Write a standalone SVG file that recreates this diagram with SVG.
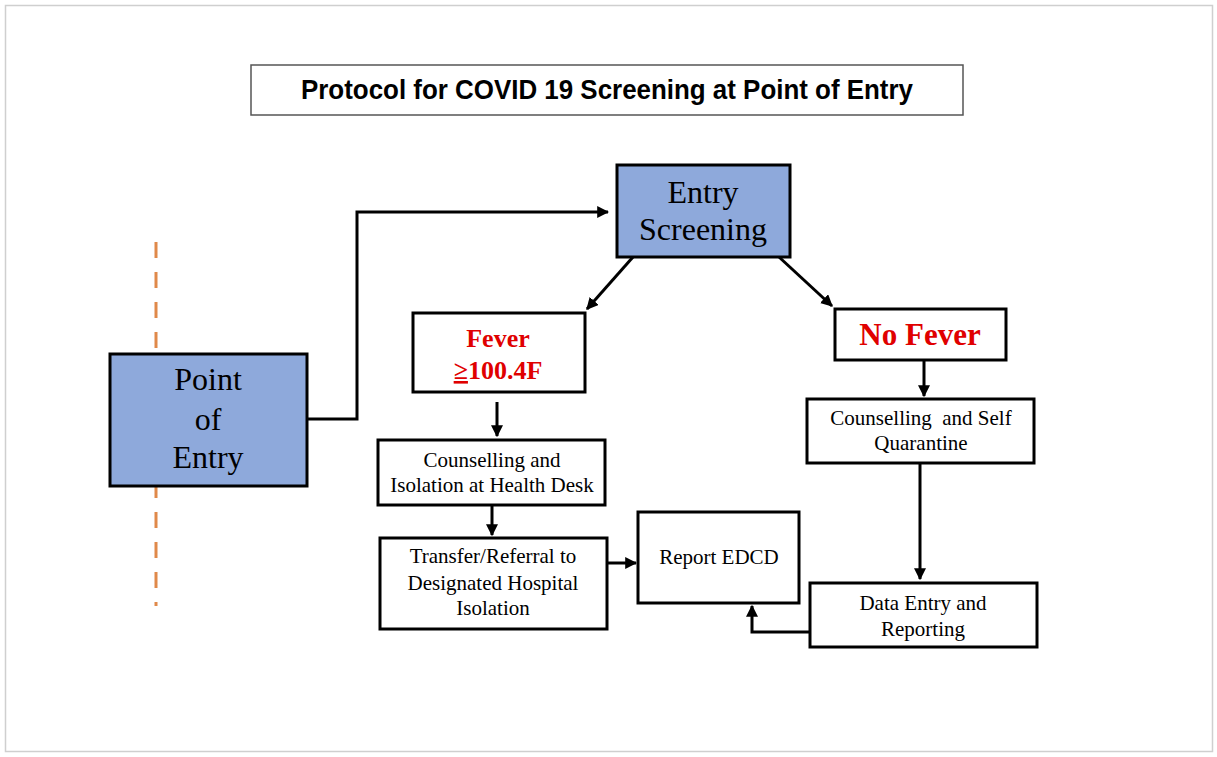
<svg xmlns="http://www.w3.org/2000/svg" width="1217" height="757" viewBox="0 0 1217 757">
<defs>
<style>
.box{fill:#ffffff;stroke:#000;stroke-width:3}
.blue{fill:#8EA9DB;stroke:#000;stroke-width:3}
.t{font-family:"Liberation Serif","DejaVu Serif",serif;fill:#000;text-anchor:middle}
.big{font-size:32px}
.sm{font-size:21px}
.red{fill:#E00000;font-weight:bold}
.line{fill:none;stroke:#000;stroke-width:3}
</style>
<marker id="ah" viewBox="0 0 10 10" refX="9" refY="5" markerWidth="4" markerHeight="4" orient="auto" markerUnits="strokeWidth">
<path d="M0,0 L10,5 L0,10 z" fill="#000"/>
</marker>
</defs>
<rect x="0" y="0" width="1217" height="757" fill="#fff"/>
<rect x="5.5" y="5.5" width="1207" height="746" fill="none" stroke="#cfcfcf" stroke-width="1.5"/>
<g id="title">
<rect x="251" y="65" width="712" height="50" fill="#fff" stroke="#555" stroke-width="1.5"/>
<text x="607" y="99" font-family="'Liberation Sans',Arial,sans-serif" font-weight="bold" font-size="28" text-anchor="middle" textLength="612" lengthAdjust="spacingAndGlyphs">Protocol for COVID 19 Screening at Point of Entry</text>
</g>
<g id="border-line">
<line x1="156" y1="242" x2="156" y2="606" stroke="#E0894A" stroke-width="3" stroke-dasharray="16,14"/>
</g>
<g id="connectors">
<polyline class="line" points="307,419 357,419 357,212 608,212" marker-end="url(#ah)"/>
<line class="line" x1="633" y1="257" x2="587" y2="309" marker-end="url(#ah)"/>
<line class="line" x1="779" y1="257" x2="832" y2="306" marker-end="url(#ah)"/>
<line class="line" x1="497" y1="402" x2="497" y2="436" marker-end="url(#ah)"/>
<line class="line" x1="492" y1="505" x2="492" y2="535" marker-end="url(#ah)"/>
<line class="line" x1="607" y1="563" x2="636" y2="563" stroke-width="4" marker-end="url(#ah)"/>
<line class="line" x1="924" y1="360" x2="924" y2="396" marker-end="url(#ah)"/>
<line class="line" x1="920" y1="463" x2="920" y2="579" marker-end="url(#ah)"/>
<polyline class="line" points="810,632 752,632 752,606" stroke-width="4" marker-end="url(#ah)"/>
</g>
<g id="point-of-entry">
<rect class="blue" x="110" y="354" width="197" height="132"/>
<text class="t big" x="208" y="390">Point</text>
<text class="t big" x="208" y="430">of</text>
<text class="t big" x="208" y="468">Entry</text>
</g>
<g id="entry-screening">
<rect class="blue" x="617" y="165" width="173" height="92"/>
<text class="t big" x="703" y="203">Entry</text>
<text class="t big" x="703" y="240">Screening</text>
</g>
<g id="fever">
<rect class="box" x="413" y="313" width="172" height="79"/>
<text class="t red" font-size="26" x="498" y="347">Fever</text>
<text class="t red" font-size="26" x="498" y="379"><tspan text-decoration="underline">≥</tspan>100.4F</text>
</g>
<g id="no-fever">
<rect class="box" x="835" y="309" width="171" height="51"/>
<text class="t red" font-size="31" x="920" y="345">No Fever</text>
</g>
<g id="counselling-self">
<rect class="box" x="807" y="399" width="227" height="64"/>
<text class="t sm" x="921" y="425" xml:space="preserve">Counselling  and Self</text>
<text class="t sm" x="921" y="450">Quarantine</text>
</g>
<g id="data-entry">
<rect class="box" x="810" y="583" width="227" height="64"/>
<text class="t sm" x="923" y="610">Data Entry and</text>
<text class="t sm" x="923" y="636">Reporting</text>
</g>
<g id="report-edcd">
<rect class="box" x="638" y="512" width="161" height="91"/>
<text class="t sm" x="719" y="564">Report EDCD</text>
</g>
<g id="counselling-isolation">
<rect class="box" x="378" y="440" width="227" height="65"/>
<text class="t sm" x="492" y="467">Counselling and</text>
<text class="t sm" x="492" y="492">Isolation at Health Desk</text>
</g>
<g id="transfer">
<rect class="box" x="380" y="538" width="227" height="91"/>
<text class="t sm" x="493" y="563">Transfer/Referral to</text>
<text class="t sm" x="493" y="590">Designated Hospital</text>
<text class="t sm" x="493" y="615">Isolation</text>
</g>
</svg>
